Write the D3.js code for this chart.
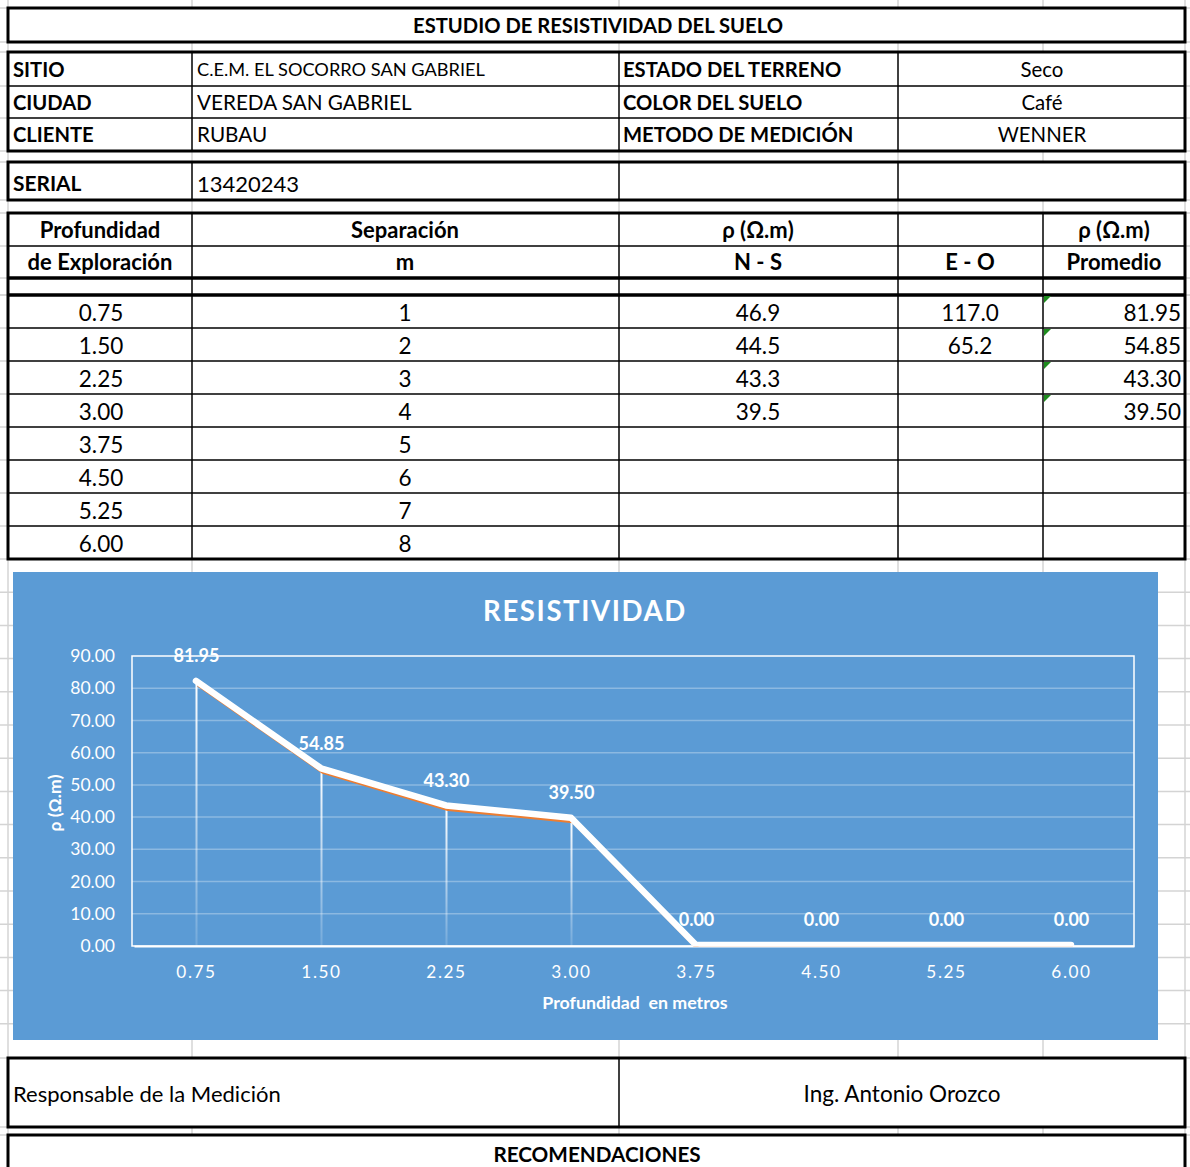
<!DOCTYPE html>
<html>
<head>
<meta charset="utf-8">
<script src="https://cdn.jsdelivr.net/npm/d3@7"></script>
<style>
body{margin:0;background:#fff;}
svg{display:block;font-family:Lato,"Open Sans",sans-serif;}
.grid{stroke:#d4d4d4;stroke-width:1.5;}
.box{fill:#fff;stroke:#000;stroke-width:3;}
.thin{stroke:#000;stroke-width:1.5;}
.thick{stroke:#000;stroke-width:3.5;}
.b{font-weight:700;}
</style>
</head>
<body>
<div id="chart"></div>
<script>
// ---- datos ----
const profundidad=["0.75","1.50","2.25","3.00","3.75","4.50","5.25","6.00"];
const separacion=[1,2,3,4,5,6,7,8];
const rhoNS=[46.9,44.5,43.3,39.5,null,null,null,null];
const rhoEO=[117.0,65.2,null,null,null,null,null,null];
const promedio=[81.95,54.85,43.30,39.50,0,0,0,0];
const yTicks=[0,10,20,30,40,50,60,70,80,90];
const infoLeft=[["SITIO","C.E.M. EL SOCORRO SAN GABRIEL"],["CIUDAD","VEREDA SAN GABRIEL"],["CLIENTE","RUBAU"]];
const infoRight=[["ESTADO DEL TERRENO","Seco"],["COLOR DEL SUELO","Café"],["METODO DE MEDICIÓN","WENNER"]];

const W=1190,H=1167;
const colX=[8,192,619,898,1043,1185];
const svg=d3.select('#chart').append('svg').attr('width',W).attr('height',H);

// hoja de cálculo de fondo
const rowsBg=[8,42,52,86,118,151,162,200,213,246,278,295].concat(d3.range(9).map(i=>295+i*33))
  .concat(d3.range(1,15).map(i=>559+i*33.2)).concat([1058,1127,1135]);
const bg=svg.append('g');
colX.forEach(x=>bg.append('line').attr('class','grid').attr('x1',x).attr('x2',x).attr('y1',0).attr('y2',H));
rowsBg.forEach(y=>bg.append('line').attr('class','grid').attr('x1',0).attr('x2',W).attr('y1',y).attr('y2',y));

const txt=(x,y,t,opt={})=>svg.append('text').attr('x',x).attr('y',y).attr('dy','0.35em')
  .attr('text-anchor',opt.anchor||'start').attr('font-size',opt.size||22.5)
  .attr('class',opt.bold?'b':null).attr('fill','#000').text(t);
const hline=(x1,x2,y,c)=>svg.append('line').attr('class',c).attr('x1',x1).attr('x2',x2).attr('y1',y).attr('y2',y);
const vline=(x,y1,y2,c)=>svg.append('line').attr('class',c).attr('x1',x).attr('x2',x).attr('y1',y1).attr('y2',y2);
const box=(y1,y2)=>svg.append('rect').attr('class','box').attr('x',8).attr('y',y1).attr('width',1177).attr('height',y2-y1);

// título
box(8,42);
txt(598,26,'ESTUDIO DE RESISTIVIDAD DEL SUELO',{anchor:'middle',bold:true,size:20.2});

// info
box(52,151);
[192,619,898].forEach(x=>vline(x,52,151,'thin'));
[86,118].forEach(y=>hline(8,1185,y,'thin'));
const infoY=[70,103,135];
infoLeft.forEach((d,i)=>{
  txt(13,infoY[i],d[0],{bold:true,size:20.2});
  txt(197,infoY[i],d[1],{size:i==0?18.2:20.7});
});
infoRight.forEach((d,i)=>{
  txt(623,infoY[i],d[0],{bold:true,size:20.2});
  txt(1042,infoY[i],d[1],{anchor:'middle',size:20.4});
});

// serial
box(162,200);
[192,619,898].forEach(x=>vline(x,162,200,'thin'));
txt(13,184,'SERIAL',{bold:true,size:20.9});
txt(197,184,'13420243',{size:22});

// tabla
box(213,559);
[192,619,898,1043].forEach(x=>vline(x,213,559,'thin'));
hline(8,1185,246,'thin');hline(8,1185,278,'thick');hline(8,1185,295,'thick');
const rowY=d3.scaleBand().domain(d3.range(8)).range([295,559]);
d3.range(1,8).forEach(i=>hline(8,1185,rowY(i),'thin'));
[[100,230,'Profundidad'],[100,262,'de Exploración'],[405,230,'Separación'],[405,262,'m'],
 [758,230,'ρ (Ω.m)'],[758,262,'N - S'],[970,262,'E - O'],[1114,230,'ρ (Ω.m)'],[1114,262,'Promedio']]
 .forEach(d=>txt(d[0],d[1],d[2],{anchor:'middle',bold:true,size:22}));
const fmt1=d3.format('.1f'),fmt2=d3.format('.2f');
profundidad.forEach((p,i)=>{
  const cy=rowY(i)+rowY.bandwidth()/2+2;
  txt(101,cy,p,{anchor:'middle'});
  txt(405,cy,separacion[i],{anchor:'middle'});
  if(rhoNS[i]!=null)txt(758,cy,fmt1(rhoNS[i]),{anchor:'middle'});
  if(rhoEO[i]!=null)txt(970,cy,fmt1(rhoEO[i]),{anchor:'middle'});
  if(i<4){
    txt(1181,cy,fmt2(promedio[i]),{anchor:'end'});
    const y0=rowY(i)+1;
    svg.append('path').attr('d',`M1044,${y0}h7l-7,7z`).attr('fill','#1e8c1e');
  }
});

// ---- gráfico ----
svg.append('rect').attr('x',13).attr('y',572).attr('width',1145).attr('height',468).attr('fill','#5b9bd5');
const x=d3.scaleBand().domain(profundidad).range([134,1134]);
const y=d3.scaleLinear().domain([0,90]).range([946,656]);
const cx=d=>x(d)+x.bandwidth()/2;

const defs=svg.append('defs');
const gr=defs.append('linearGradient').attr('id','drop').attr('x1',0).attr('x2',0).attr('y1',0).attr('y2',1);
gr.append('stop').attr('offset','0%').attr('stop-color','#fff').attr('stop-opacity',1);
gr.append('stop').attr('offset','100%').attr('stop-color','#fff').attr('stop-opacity',0.15);
defs.append('clipPath').attr('id','plotclip').append('rect')
  .attr('x',120).attr('y',600).attr('width',1030).attr('height',y(0)-600+0.5);

const ch=svg.append('g');
ch.append('text').attr('x',585).attr('y',611).attr('dy','0.35em').attr('text-anchor','middle')
  .attr('fill','#fff').attr('font-size',27.6).attr('font-weight',700).attr('letter-spacing',1.6).text('RESISTIVIDAD');

ch.selectAll('.hg').data(yTicks.slice(1,-1)).enter().append('line')
  .attr('x1',132).attr('x2',1134).attr('y1',d=>y(d)).attr('y2',d=>y(d))
  .attr('stroke','#fff').attr('stroke-opacity',0.3).attr('stroke-width',1.5);
ch.append('rect').attr('x',132).attr('y',y(90)).attr('width',1002).attr('height',y(0)-y(90))
  .attr('fill','none').attr('stroke','#fff').attr('stroke-width',1.5);

const yAx=ch.append('g').attr('transform','translate(132,0)')
  .call(d3.axisLeft(y).tickValues(yTicks).tickFormat(fmt2).tickSize(0).tickPadding(17));
yAx.select('.domain').remove();
yAx.selectAll('text').attr('fill','#fff').attr('font-size',17.5).attr('font-family','Lato,sans-serif');

const xAx=ch.append('g').attr('transform','translate(0,946)')
  .call(d3.axisBottom(x).tickSize(0).tickPadding(20));
xAx.select('.domain').attr('stroke','#fff').attr('stroke-width',2);
xAx.selectAll('text').attr('fill','#fff').attr('font-size',17.2).attr('letter-spacing',1.6).attr('font-family','Lato,sans-serif');

ch.append('text').attr('transform','translate(55,803) rotate(-90)').attr('dy','0.35em').attr('text-anchor','middle')
  .attr('fill','#fff').attr('font-size',17.5).attr('font-weight',700).text('ρ (Ω.m)');
ch.append('text').attr('x',635).attr('y',1003).attr('dy','0.35em').attr('text-anchor','middle')
  .attr('fill','#fff').attr('font-size',17.8).attr('font-weight',700).attr('xml:space','preserve').text('Profundidad  en metros');

// líneas de caída
ch.selectAll('.drop').data(promedio.map((v,i)=>[profundidad[i],v]).filter(d=>d[1]>0)).enter().append('rect')
  .attr('x',d=>cx(d[0])-1).attr('width',2).attr('y',d=>y(d[1])).attr('height',d=>y(0)-y(d[1]))
  .attr('fill','url(#drop)');

const line=d3.line().x((d,i)=>cx(profundidad[i])).y(d=>y(d));
const lines=ch.append('g').attr('clip-path','url(#plotclip)');
lines.append('path').datum(promedio).attr('d',line).attr('transform','translate(1.5,2.5)')
  .attr('fill','none').attr('stroke','#ed7d31').attr('stroke-width',4).attr('stroke-linejoin','round');
lines.append('path').datum(promedio).attr('d',line).attr('transform','translate(-0.5,-1)')
  .attr('fill','none').attr('stroke','#fff').attr('stroke-width',6.5).attr('stroke-linejoin','round').attr('stroke-linecap','round');

ch.selectAll('.lab').data(promedio).enter().append('text')
  .attr('x',(d,i)=>cx(profundidad[i])).attr('y',d=>y(d)-26).attr('dy','0.35em').attr('text-anchor','middle')
  .attr('fill','#fff').attr('font-size',18).attr('font-weight',700).text(d=>fmt2(d));

// pie
box(1058,1127);
vline(619,1058,1127,'thin');
txt(13,1094,'Responsable de la Medición',{size:22});
txt(902,1094,'Ing. Antonio Orozco',{anchor:'middle',size:22.5});
box(1135,1180);
txt(597,1155,'RECOMENDACIONES',{anchor:'middle',bold:true,size:20.7});
</script>
</body>
</html>
